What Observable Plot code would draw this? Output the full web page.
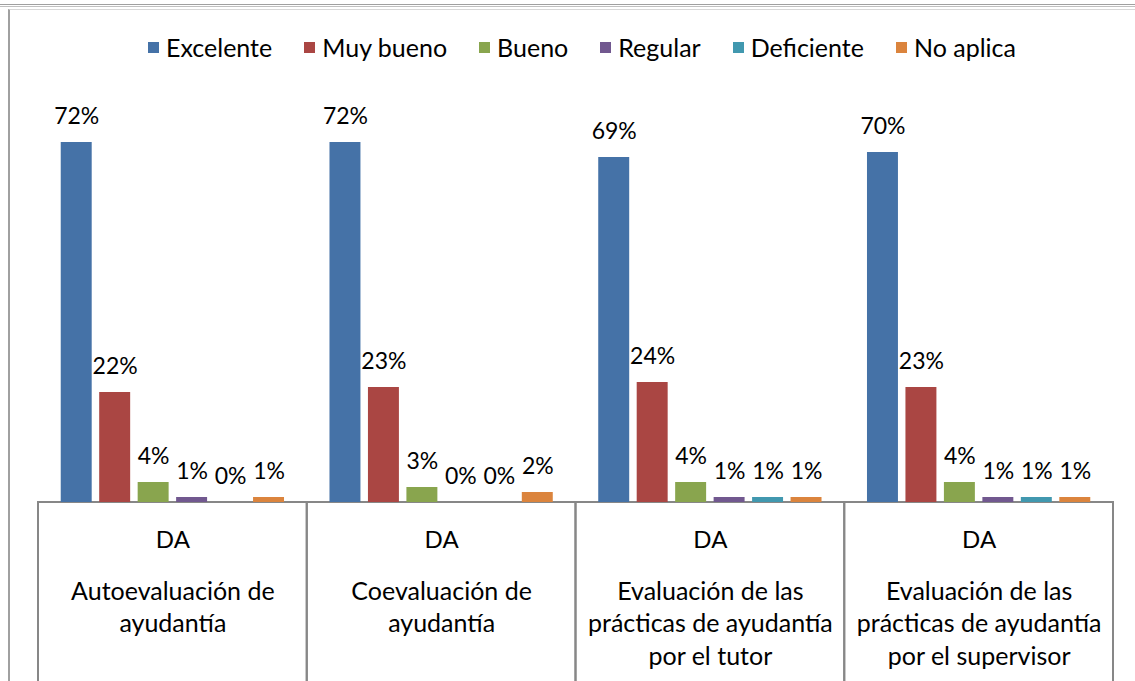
<!DOCTYPE html>
<html><head><meta charset="utf-8">
<script src="https://cdn.jsdelivr.net/npm/d3@7"></script>
<script src="https://cdn.jsdelivr.net/npm/@observablehq/plot@0.6"></script>
<style>
body{margin:0;background:#fff;font-family:Lato, "Noto Sans", sans-serif;}
#wrap{position:relative;width:1135px;height:681px;overflow:hidden;background:#fff;}
.topline{position:absolute;top:4px;left:0;width:1135px;height:1px;border-top:1px solid #a0a0a0;border-bottom:1px solid #c0c0c0;}
.frame{position:absolute;left:8px;top:9px;width:1140px;height:700px;border-left:2px solid #a0a0a0;border-top:1px solid #d8d8d8;}
#legend{position:absolute;top:32px;left:148px;display:flex;align-items:center;font-size:25px;color:#000;white-space:nowrap;}
#legend .item{display:flex;align-items:center;margin-right:32px;}
#legend .sw{width:11px;height:11px;margin-right:7px;}
#chart{position:absolute;top:90px;left:0;}
</style></head><body>
<div id="wrap">
  <div class="topline"></div>
  <div class="frame"></div>
  <div id="legend"></div>
  <div id="chart"></div>
</div>
<script>
const groupLabels = [
  "Autoevaluación de\nayudantía",
  "Coevaluación de\nayudantía",
  "Evaluación de las\nprácticas de ayudantía\npor el tutor",
  "Evaluación de las\nprácticas de ayudantía\npor el supervisor"
];
const topLabel = "DA";
const series = ["Excelente", "Muy bueno", "Bueno", "Regular", "Deficiente", "No aplica"];
const colors = ["#4572A7", "#AA4643", "#89A54E", "#71588F", "#4198AF", "#DB843D"];
const excelente = [72, 72, 69, 70];
const muyBueno = [22, 23, 24, 23];
const bueno = [4, 3, 4, 4];
const regular = [1, 0, 1, 1];
const deficiente = [0, 0, 1, 1];
const noAplica = [1, 2, 1, 1];

const seriesValues = [excelente, muyBueno, bueno, regular, deficiente, noAplica];
const rows = [];
groupLabels.forEach((g, gi) => {
  series.forEach((s, si) => rows.push({group: g, series: s, value: seriesValues[si][gi]}));
});

// Legend
const legend = document.getElementById("legend");
series.forEach((s, i) => {
  const it = document.createElement("div");
  it.className = "item";
  const sw = document.createElement("div");
  sw.className = "sw";
  sw.style.background = colors[i];
  const t = document.createElement("span");
  t.textContent = s;
  it.appendChild(sw); it.appendChild(t);
  legend.appendChild(it);
});

const font = 'Lato, "Noto Sans", sans-serif';
const plot = Plot.plot({
  width: 1135,
  height: 591,
  marginTop: 12,
  marginBottom: 179,
  marginLeft: 38,
  marginRight: 22,
  style: {fontFamily: font, fontSize: "24px", color: "#000", background: "transparent", overflow: "visible"},
  fx: {domain: groupLabels, paddingInner: 0, paddingOuter: 0, round: false, axis: null},
  x: {domain: series, paddingInner: 0.195, paddingOuter: 0.591, round: false, axis: null},
  y: {domain: [0, 80], axis: null},
  color: {domain: series, range: colors},
  marks: [
    Plot.rect(groupLabels, {fx: d => d, y1: 0, y2: -40, fill: "none", stroke: "#878787", strokeWidth: 2}),
    Plot.barY(rows, {fx: "group", x: "series", y: "value", fill: "series"}),
    Plot.text(rows, {fx: "group", x: "series", y: "value", text: d => d.value + "%", lineAnchor: "bottom", dy: -19, fill: "#000", fontSize: 23}),
    Plot.text(groupLabels, {fx: d => d, text: () => topLabel, frameAnchor: "bottom", lineAnchor: "middle", dy: 38, fill: "#000", fontSize: 24}),
    Plot.text(groupLabels, {fx: d => d, text: d => d, frameAnchor: "bottom", lineAnchor: "top", dy: 74, lineHeight: 1.3, fill: "#000", fontSize: 25})
  ]
});
document.getElementById("chart").appendChild(plot);
</script>
</body></html>
